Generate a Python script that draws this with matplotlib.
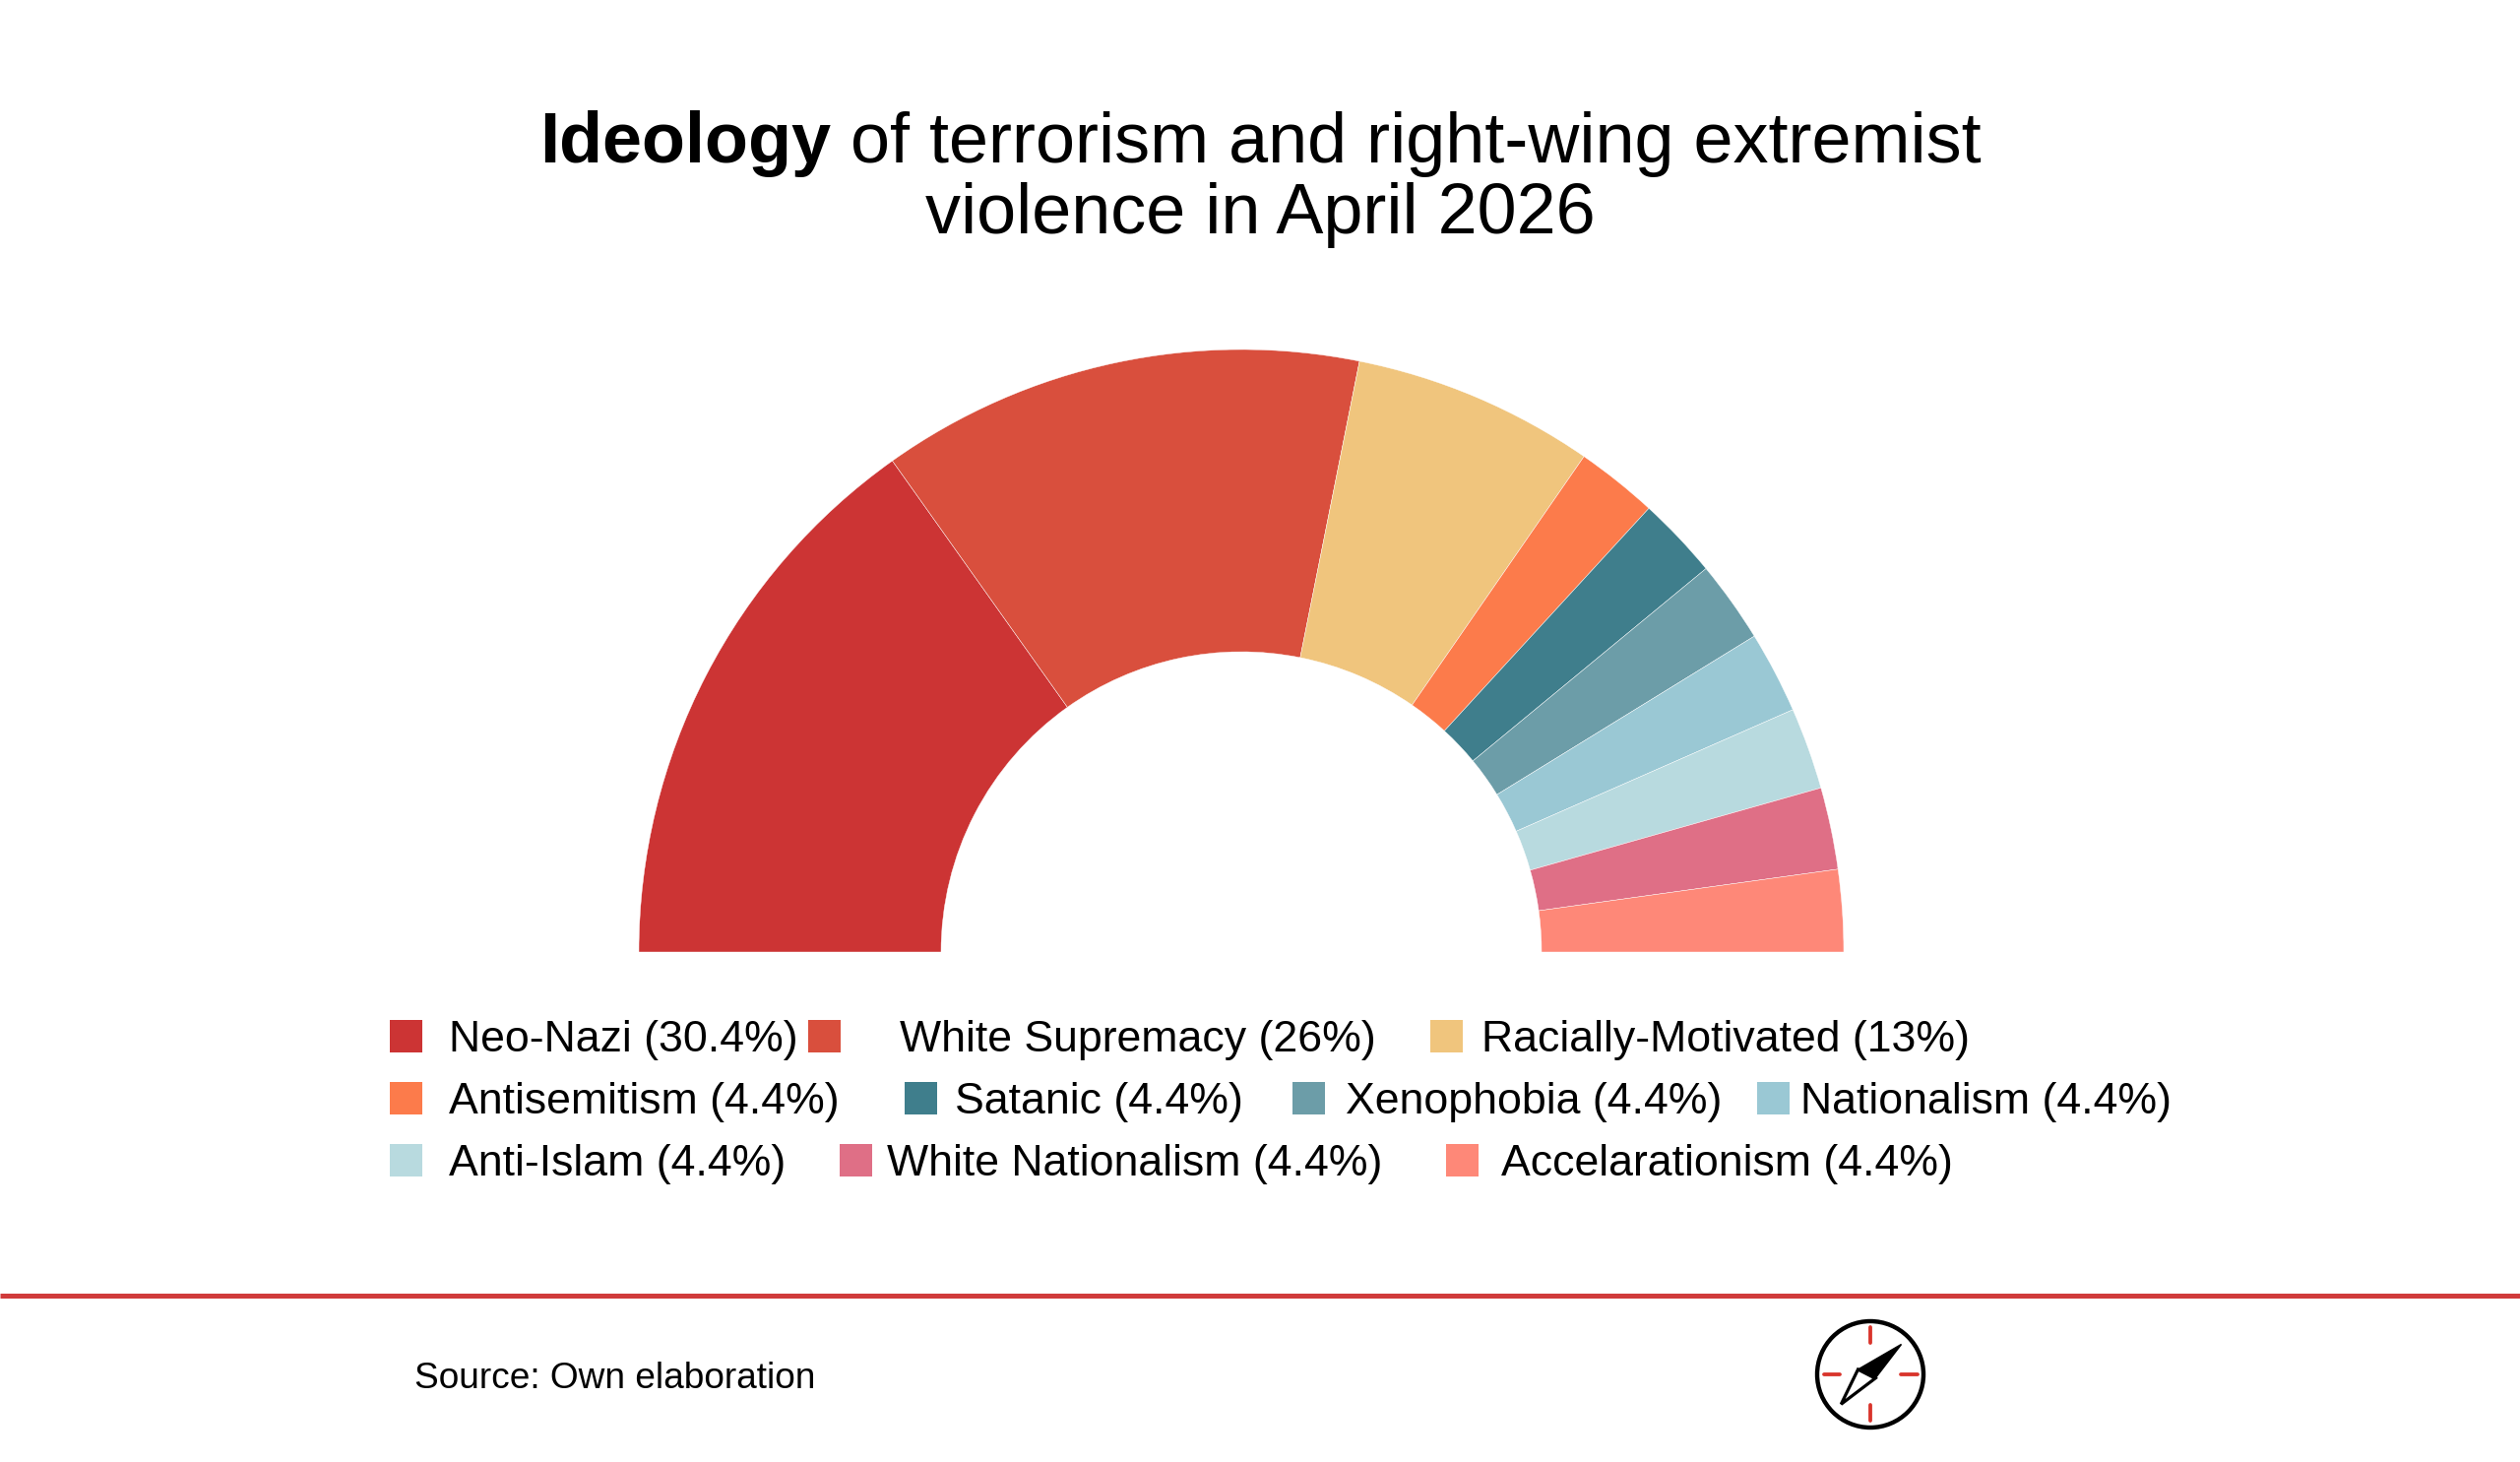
import matplotlib
matplotlib.use("Agg")
import matplotlib.pyplot as plt
from matplotlib.patches import Rectangle, Circle, Polygon

# ---------------- data ----------------
categories = ["Neo-Nazi", "White Supremacy", "Racially-Motivated", "Antisemitism",
              "Satanic", "Xenophobia", "Nationalism", "Anti-Islam",
              "White Nationalism", "Accelarationism"]
percentages = [30.4, 26, 13, 4.4, 4.4, 4.4, 4.4, 4.4, 4.4, 4.4]
colors = ["#CC3434", "#D94F3D", "#F0C57D", "#FC7B4B", "#3F7E8C",
          "#6C9DA8", "#9AC8D4", "#B8DADF", "#DF6F86", "#FE8878"]
title_bold = "Ideology"
title_rest = " of terrorism and right-wing extremist"
title_line2 = "violence in April 2026"
source_text = "Source: Own elaboration"

# ---------------- layout (pixel coordinates, image y measured from top) ----------------
W, H = 2560, 1485
DPI = 100
FONT = "Liberation Sans"

def px2pt(px):
    return px * 72.0 / DPI

def Y(y_img):
    return H - y_img

fig = plt.figure(figsize=(W / DPI, H / DPI), dpi=DPI, facecolor="white")
ax = fig.add_axes([0, 0, 1, 1])
ax.set_facecolor("white")

# ---- half donut ----
total = sum(percentages)
fracs = [p / total * 0.5 for p in percentages]
cx, cy = 1261, Y(967)
r_out, r_in = 612, 305
ax.pie(fracs, colors=colors, startangle=180, counterclock=False, normalize=False,
       center=(cx, cy), radius=r_out,
       wedgeprops=dict(width=r_out - r_in, edgecolor="white", linewidth=0.3))

ax.set_xlim(0, W)
ax.set_ylim(0, H)
ax.set_aspect("auto")
ax.axis("off")

# ---- title ----
renderer = fig.canvas.get_renderer()
title_px = 72
tb = ax.text(0, Y(165), title_bold, fontsize=px2pt(title_px), fontweight="bold",
             family=FONT, ha="left", va="baseline", color="black")
tr = ax.text(0, Y(165), title_rest, fontsize=px2pt(title_px),
             family=FONT, ha="left", va="baseline", color="black")
wb = tb.get_window_extent(renderer).width
wr = tr.get_window_extent(renderer).width
x0 = W / 2 - (wb + wr) / 2
tb.set_x(x0)
tr.set_x(x0 + wb)
ax.text(W / 2, Y(237), title_line2, fontsize=px2pt(title_px), family=FONT,
        ha="center", va="baseline", color="black")

# ---- legend ----
marker_x = [396, 821, 1453, 396, 919, 1313, 1785, 396, 853, 1469]
text_x = [456, 914, 1505, 456, 970, 1367, 1829, 456, 901, 1525]
row_of = [0, 0, 0, 1, 1, 1, 1, 2, 2, 2]
row_center = [1052, 1115.5, 1178]
msize = 33
legend_px = 44.7
for i, name in enumerate(categories):
    yc = row_center[row_of[i]]
    ax.add_patch(Rectangle((marker_x[i], Y(yc + msize / 2)), msize, msize,
                           facecolor=colors[i], edgecolor="none"))
    label = f"{name} ({percentages[i]:g}%)"
    ax.text(text_x[i], Y(yc + 16), label, fontsize=px2pt(legend_px), family=FONT,
            ha="left", va="baseline", color="black")

# ---- footer ----
ax.plot([0, W], [Y(1316), Y(1316)], color="#D03B3B", linewidth=px2pt(5),
        solid_capstyle="butt")
ax.text(421, Y(1410), source_text, fontsize=px2pt(37), family=FONT,
        ha="left", va="baseline", color="black")

# ---- compass logo ----
ccx, ccy = 1900, Y(1396)
ax.add_patch(Circle((ccx, ccy), 54, facecolor="white", edgecolor="black",
                    linewidth=px2pt(4.4)))
red = "#D9342B"
for (dx0, dy0, dx1, dy1) in [(0, 32, 0, 48), (0, -31, 0, -47),
                             (-31, 0, -47, 0), (31, 0, 48, 0)]:
    ax.plot([ccx + dx0, ccx + dx1], [ccy + dy0, ccy + dy1], color=red,
            linewidth=px2pt(3.8), solid_capstyle="round")
ne = (31.5, 30.5)
sw = (-29.7, -30.3)
lc = (-12.5, 5.0)
rc = (5.0, -4.0)
notch = (-2.0, 1.0)
def P(pts):
    return [(ccx + a, ccy + b) for a, b in pts]
ax.add_patch(Polygon(P([lc, sw, rc]), closed=True, facecolor="white",
                     edgecolor="black", linewidth=px2pt(3.2), joinstyle="miter"))
ax.add_patch(Polygon(P([ne, lc, notch, rc]), closed=True, facecolor="black",
                     edgecolor="black", linewidth=px2pt(1.5), joinstyle="miter"))

fig.savefig("out.png", dpi=DPI, facecolor="white")
